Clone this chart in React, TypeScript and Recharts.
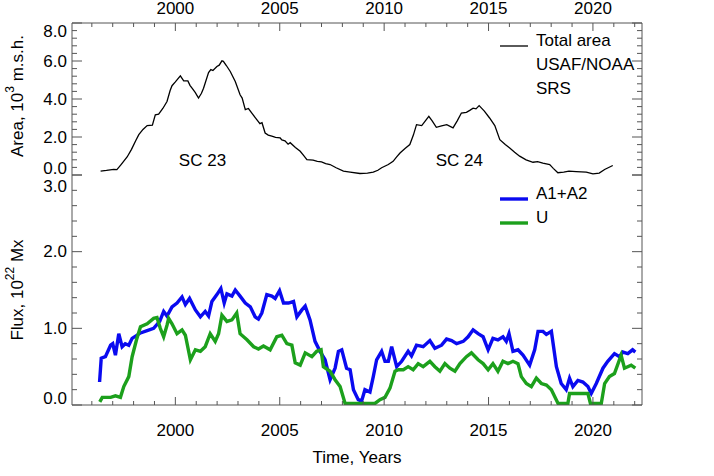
import React from 'react';
import { LineChart, Line, XAxis, YAxis, ReferenceDot, Legend } from 'recharts';

const FONT = '"Liberation Sans", Arial, Helvetica, sans-serif';
const AXIS = '#555';
const W = 714;
const H = 476;

// x ticks (yearly minor, labels every 5 years)
const yearTicks = [
  1996, 1997, 1998, 1999, 2000, 2001, 2002, 2003, 2004, 2005, 2006, 2007, 2008, 2009,
  2010, 2011, 2012, 2013, 2014, 2015, 2016, 2017, 2018, 2019, 2020, 2021, 2022,
];
const areaTicks = [
  0, 0.4, 0.8, 1.2, 1.6, 2, 2.4, 2.8, 3.2, 3.6, 4, 4.4, 4.8, 5.2, 5.6, 6, 6.4, 6.8, 7.2, 7.6, 8,
];
const fluxTicks = [0, 0.2, 0.4, 0.6, 0.8, 1, 1.2, 1.4, 1.6, 1.8, 2, 2.2, 2.4, 2.6, 2.8, 3];

// total sunspot area, 10^3 m.s.h.
const areaYears = [
  1996.42, 1996.7, 1997.05, 1997.2, 1997.4, 1997.69, 1997.9, 1998.1, 1998.25, 1998.45, 1998.65,
  1998.9, 1999.04, 1999.2, 1999.4, 1999.6, 1999.75, 1999.84, 2000.0, 2000.24, 2000.4, 2000.6,
  2000.7, 2000.8, 2000.95, 2001.11, 2001.25, 2001.35, 2001.59, 2001.7, 2001.8, 2001.99, 2002.1,
  2002.23, 2002.3, 2002.45, 2002.63, 2002.87, 2003.1, 2003.2, 2003.35, 2003.5, 2003.7, 2003.9,
  2004.05, 2004.15, 2004.3, 2004.45, 2004.62, 2004.8, 2005.02, 2005.1, 2005.25, 2005.4, 2005.5,
  2005.75, 2005.98, 2006.15, 2006.3, 2006.6, 2006.8, 2007.0, 2007.2, 2007.41, 2007.7, 2008.05,
  2008.37, 2008.84, 2009.2, 2009.48, 2009.7, 2009.88, 2010.2, 2010.43, 2010.6, 2010.76, 2011.0,
  2011.23, 2011.4, 2011.55, 2011.8, 2012.14, 2012.3, 2012.5, 2012.75, 2013.0, 2013.3, 2013.5,
  2013.7, 2013.94, 2014.1, 2014.26, 2014.4, 2014.55, 2014.8, 2015.05, 2015.3, 2015.54, 2015.8,
  2016.0, 2016.25, 2016.49, 2016.8, 2017.13, 2017.35, 2017.6, 2017.93, 2018.1, 2018.32, 2018.6,
  2018.85, 2019.2, 2019.68, 2020.0, 2020.3, 2020.56, 2020.95,
];
const areaValues = [
  0.2, 0.24, 0.3, 0.28, 0.55, 0.95, 1.35, 1.8, 2.12, 2.4, 2.6,
  2.62, 3.17, 3.2, 3.5, 3.87, 4.45, 4.7, 4.9, 5.22, 4.95, 4.95,
  4.72, 4.57, 4.35, 4.05, 4.3, 4.57, 5.39, 5.55, 5.5, 5.71, 5.78,
  6.01, 5.98, 5.75, 5.45, 4.92, 4.22, 4.05, 3.44, 3.5, 3.2, 2.91,
  2.7, 2.75, 2.21, 2.1, 2.04, 1.98, 1.95, 1.85, 1.8, 1.62, 1.7,
  1.45, 1.25, 1.02, 0.81, 0.78, 0.72, 0.69, 0.6, 0.55, 0.38, 0.2,
  0.15, 0.08, 0.1, 0.15, 0.25, 0.38, 0.55, 0.72, 0.95, 1.16, 1.4,
  1.6, 2.1, 2.65, 2.6, 3.09, 2.85, 2.51, 2.58, 2.65, 2.48, 2.85,
  3.26, 3.3, 3.4, 3.52, 3.48, 3.65, 3.36, 3.0, 2.6, 1.86, 1.6,
  1.43, 1.2, 0.99, 0.8, 0.67, 0.7, 0.62, 0.55, 0.35, 0.12, 0.15,
  0.2, 0.18, 0.15, 0.06, 0.1, 0.29, 0.5,
];

// A1+A2 flux, 10^22 Mx
const a12Years = [
  1996.37, 1996.45, 1996.65, 1996.9, 1997.0, 1997.13, 1997.29, 1997.45, 1997.6, 1997.77, 1997.93,
  1998.33, 1998.65, 1998.96, 1999.25, 1999.44, 1999.6, 1999.84, 2000.08, 2000.32, 2000.48, 2000.68,
  2000.96, 2001.2, 2001.43, 2001.59, 2001.75, 2001.99, 2002.18, 2002.34, 2002.47, 2002.71, 2002.87,
  2003.1, 2003.35, 2003.59, 2003.82, 2003.98, 2004.14, 2004.38, 2004.62, 2004.78, 2004.99, 2005.18,
  2005.42, 2005.66, 2005.82, 2006.06, 2006.22, 2006.45, 2006.69, 2006.93, 2007.17, 2007.41, 2007.65,
  2007.81, 2007.97, 2008.2, 2008.37, 2008.53, 2008.76, 2008.92, 2009.08, 2009.32, 2009.48, 2009.64,
  2009.88, 2010.04, 2010.2, 2010.36, 2010.6, 2010.84, 2011.15, 2011.31, 2011.55, 2011.87, 2012.19,
  2012.43, 2012.75, 2012.99, 2013.23, 2013.47, 2013.79, 2014.02, 2014.26, 2014.5, 2014.74, 2014.98,
  2015.21, 2015.45, 2015.69, 2015.85, 2015.98, 2016.17, 2016.41, 2016.65, 2016.97, 2017.21, 2017.37,
  2017.61, 2017.77, 2018.01, 2018.25, 2018.48, 2018.72, 2018.88, 2019.04, 2019.28, 2019.52, 2019.76,
  2019.92, 2020.16, 2020.48, 2020.71, 2021.03, 2021.27, 2021.43, 2021.67, 2021.9, 2022.03,
];
const a12Values = [
  0.3, 0.61, 0.63, 0.78, 0.8, 0.65, 0.93, 0.76, 0.8, 0.78, 0.87,
  0.94, 0.97, 1.0, 1.09, 1.22, 1.16, 1.28, 1.33, 1.41, 1.31, 1.39,
  1.24, 1.15, 1.22, 1.16, 1.35, 1.44, 1.52, 1.33, 1.45, 1.42, 1.5,
  1.42, 1.33, 1.28, 1.15, 1.12, 1.2, 1.44, 1.42, 1.39, 1.49, 1.33,
  1.33, 1.35, 1.15, 1.24, 1.29, 1.11, 0.83, 0.7, 0.59, 0.33, 0.48,
  0.7, 0.72, 0.48, 0.46, 0.2, 0.07, 0.05, 0.2, 0.17, 0.37, 0.59,
  0.7, 0.57, 0.57, 0.76, 0.5, 0.57, 0.7, 0.64, 0.78, 0.76, 0.84,
  0.74, 0.78, 0.86, 0.84, 0.8, 0.83, 0.89, 0.98, 0.93, 0.89, 0.72,
  0.87, 0.85, 0.89, 0.83, 0.93, 0.7, 0.72, 0.65, 0.52, 0.72, 0.96,
  0.96, 0.92, 0.96, 0.5, 0.28, 0.2, 0.35, 0.24, 0.32, 0.3, 0.24,
  0.15, 0.28, 0.48, 0.57, 0.67, 0.63, 0.69, 0.67, 0.72, 0.69,
];

// U flux, 10^22 Mx
const uYears = [
  1996.38, 1996.5, 1996.9, 1997.13, 1997.37, 1997.53, 1997.77, 1997.93, 1998.14, 1998.33, 1998.65,
  1998.96, 1999.12, 1999.28, 1999.44, 1999.6, 1999.68, 1999.84, 2000.08, 2000.32, 2000.48, 2000.72,
  2000.96, 2001.2, 2001.43, 2001.67, 2001.91, 2002.07, 2002.23, 2002.47, 2002.71, 2002.94, 2003.1,
  2003.43, 2003.75, 2003.98, 2004.22, 2004.54, 2004.86, 2005.1, 2005.34, 2005.58, 2005.74, 2005.98,
  2006.22, 2006.54, 2006.77, 2006.98, 2007.09, 2007.41, 2007.65, 2007.89, 2008.13, 2008.84, 2009.56,
  2009.8, 2010.04, 2010.28, 2010.52, 2010.68, 2010.92, 2011.15, 2011.39, 2011.63, 2011.87, 2012.19,
  2012.43, 2012.67, 2012.91, 2013.15, 2013.39, 2013.63, 2013.94, 2014.18, 2014.5, 2014.74, 2014.98,
  2015.21, 2015.45, 2015.69, 2015.93, 2016.17, 2016.41, 2016.57, 2016.81, 2017.05, 2017.29, 2017.53,
  2017.77, 2018.01, 2018.33, 2018.8, 2018.88, 2019.76, 2019.88, 2020.4, 2020.56, 2020.79, 2021.03,
  2021.35, 2021.51, 2021.83, 2022.03,
];
const uValues = [
  0.04, 0.1, 0.1, 0.12, 0.1, 0.24, 0.37, 0.63, 0.85, 1.02, 1.06,
  1.13, 1.14, 1.0, 0.89, 1.04, 1.13, 1.06, 0.93, 0.98, 0.91, 0.59,
  0.72, 0.7, 0.76, 0.93, 0.83, 0.93, 1.17, 1.09, 1.11, 1.2, 0.93,
  0.85, 0.76, 0.73, 0.77, 0.72, 0.89, 0.91, 0.8, 0.78, 0.55, 0.52,
  0.68, 0.63, 0.7, 0.72, 0.5, 0.44, 0.33, 0.24, 0.02, 0.02, 0.02,
  0.07, 0.1, 0.22, 0.44, 0.46, 0.46, 0.5, 0.46, 0.54, 0.5, 0.57,
  0.5, 0.44, 0.54, 0.48, 0.44, 0.54, 0.63, 0.68, 0.59, 0.54, 0.46,
  0.54, 0.44, 0.57, 0.54, 0.57, 0.54, 0.37, 0.28, 0.24, 0.35, 0.28,
  0.26, 0.2, 0.02, 0.02, 0.15, 0.15, 0.02, 0.02, 0.28, 0.37, 0.41,
  0.65, 0.48, 0.52, 0.48,
];

const areaData = areaYears.map((year, i) => ({ year, v: areaValues[i] }));
const a12Data = a12Years.map((year, i) => ({ year, v: a12Values[i] }));
const uData = uYears.map((year, i) => ({ year, v: uValues[i] }));

const X_DOMAIN: [number, number] = [1995.05, 2022.35];
const textStyle = { fontFamily: FONT, fontSize: 17, fill: '#000' };

const isMultiple = (v: number, step: number) => Math.abs(v / step - Math.round(v / step)) < 1e-6;

const XTick = (props: any) => {
  const { x, y, payload, side, labels } = props;
  const v = payload.value;
  const major = v % 5 === 0;
  const len = major ? 8 : 4;
  const dir = side === 'top' ? 1 : -1;
  return (
    <g>
      <line x1={x} x2={x} y1={y} y2={y + dir * len} stroke={AXIS} strokeWidth={1} />
      {labels && major && (
        <text x={x} y={side === 'top' ? y - 15 : y + 25} textAnchor="middle" dominantBaseline="central" style={textStyle}>
          {v}
        </text>
      )}
    </g>
  );
};

const YTick = (props: any) => {
  const { x, y, payload, side, step, max, labels } = props;
  const v = payload.value;
  const major = isMultiple(v, step);
  const len = major ? 10 : 5;
  const dir = side === 'left' ? 1 : -1;
  // end labels are pulled inside the panel so the two panels' labels do not collide
  let dy = 0;
  if (Math.abs(v - max) < 1e-6) dy = max > 5 ? 8 : 11;
  if (Math.abs(v) < 1e-6) dy = -7;
  return (
    <g>
      <line x1={x} x2={x + dir * len} y1={y} y2={y} stroke={AXIS} strokeWidth={1} />
      {labels && major && (
        <text x={x - 5} y={y + dy} textAnchor="end" dominantBaseline="central" style={textStyle}>
          {v.toFixed(1)}
        </text>
      )}
    </g>
  );
};

const AreaTitle = (props: any) => {
  const { viewBox } = props;
  const cx = 17;
  const cy = viewBox.y + viewBox.height / 2 - 3;
  return (
    <text x={cx} y={cy} transform={`rotate(-90 ${cx} ${cy})`} textAnchor="middle" dominantBaseline="central" style={textStyle}>
      Area, 10<tspan dy={-7} fontSize={12}>3</tspan>
      <tspan dy={7}> m.s.h.</tspan>
    </text>
  );
};

const FluxTitle = (props: any) => {
  const { viewBox } = props;
  const cx = 17;
  const cy = viewBox.y + viewBox.height / 2;
  return (
    <text x={cx} y={cy} transform={`rotate(-90 ${cx} ${cy})`} textAnchor="middle" dominantBaseline="central" style={textStyle}>
      Flux, 10<tspan dy={-7} fontSize={12}>22</tspan>
      <tspan dy={7}> Mx</tspan>
    </text>
  );
};

const TimeTitle = (props: any) => {
  const { viewBox } = props;
  return (
    <text x={viewBox.x + viewBox.width / 2} y={viewBox.y + 52} textAnchor="middle" dominantBaseline="central" style={textStyle}>
      Time, Years
    </text>
  );
};

const legendText: React.CSSProperties = {
  fontFamily: FONT,
  fontSize: 17,
  color: '#000',
  lineHeight: '24px',
  whiteSpace: 'nowrap',
};

const LegendRow = ({ color, width, label }: { color?: string; width?: number; label: string }) => (
  <div style={{ display: 'flex', alignItems: 'center', height: 24 }}>
    <svg width={36} height={24} style={{ display: 'block' }}>
      {color && <line x1={0} x2={28} y1={17} y2={17} stroke={color} strokeWidth={width} />}
    </svg>
    <span style={legendText}>{label}</span>
  </div>
);

const AreaLegend = () => (
  <div>
    <LegendRow color="#000" width={1.3} label="Total area" />
    <LegendRow label="USAF/NOAA" />
    <LegendRow label="SRS" />
  </div>
);

const FluxLegend = () => (
  <div>
    <LegendRow color="#0a0af0" width={3.4} label="A1+A2" />
    <LegendRow color="#1ca01c" width={3.4} label="U" />
  </div>
);

export default function App() {
  return (
    <div style={{ position: 'absolute', left: 0, top: 0, width: W, height: H, background: '#fff' }}>
      <div style={{ position: 'absolute', left: 0, top: 0 }}>
        <LineChart width={W} height={H} margin={{ top: 0, right: 0, bottom: H - 175, left: 0 }}>
          <XAxis
            xAxisId="t" orientation="top" dataKey="year" type="number" domain={X_DOMAIN} allowDataOverflow
            ticks={yearTicks} interval={0} height={23} tickSize={0} tickMargin={0}
            stroke={AXIS} tickLine={false}
            tick={(p: any) => <XTick {...p} side="top" labels />}
          />
          <XAxis
            xAxisId="b" orientation="bottom" dataKey="year" type="number" domain={X_DOMAIN} allowDataOverflow
            ticks={yearTicks} interval={0} height={0} tickSize={0} tickMargin={0}
            stroke={AXIS} tickLine={false}
            tick={(p: any) => <XTick {...p} side="bottom" />}
          />
          <YAxis
            yAxisId="l" orientation="left" type="number" domain={[0, 8]} allowDataOverflow
            ticks={areaTicks} interval={0} width={72} tickSize={0} tickMargin={0}
            stroke={AXIS} tickLine={false}
            tick={(p: any) => <YTick {...p} side="left" step={2} max={8} labels />}
            label={(p: any) => <AreaTitle {...p} />}
          />
          <YAxis
            yAxisId="r" orientation="right" type="number" domain={[0, 8]} allowDataOverflow
            ticks={areaTicks} interval={0} width={72} tickSize={0} tickMargin={0}
            stroke={AXIS} tickLine={false}
            tick={(p: any) => <YTick {...p} side="right" step={2} max={8} />}
          />
          <Line
            data={areaData} dataKey="v" xAxisId="b" yAxisId="l" type="linear"
            stroke="#000" strokeWidth={1.3} dot={false} activeDot={false} isAnimationActive={false}
          />
          <ReferenceDot xAxisId="b" yAxisId="l" x={2001.3} y={0.78} r={0} fill="none" stroke="none"
            label={{ value: 'SC 23', position: 'center', style: textStyle }} />
          <ReferenceDot xAxisId="b" yAxisId="l" x={2013.6} y={0.78} r={0} fill="none" stroke="none"
            label={{ value: 'SC 24', position: 'center', style: textStyle }} />
          <Legend
            layout="horizontal" verticalAlign="middle" align="center"
            wrapperStyle={{ position: 'absolute', left: 500, top: 29, width: 'auto' }}
            content={() => <AreaLegend />}
          />
        </LineChart>
      </div>
      <div style={{ position: 'absolute', left: 0, top: 0 }}>
        <LineChart width={W} height={H} margin={{ top: 175, right: 0, bottom: 0, left: 0 }}>
          <XAxis
            xAxisId="t" orientation="top" dataKey="year" type="number" domain={X_DOMAIN} allowDataOverflow
            ticks={yearTicks} interval={0} height={0} tickSize={0} tickMargin={0}
            stroke={AXIS} tickLine={false}
            tick={(p: any) => <XTick {...p} side="top" />}
          />
          <XAxis
            xAxisId="b" orientation="bottom" dataKey="year" type="number" domain={X_DOMAIN} allowDataOverflow
            ticks={yearTicks} interval={0} height={71} tickSize={0} tickMargin={0}
            stroke={AXIS} tickLine={false}
            tick={(p: any) => <XTick {...p} side="bottom" labels />}
            label={(p: any) => <TimeTitle {...p} />}
          />
          <YAxis
            yAxisId="l" orientation="left" type="number" domain={[0, 3]} allowDataOverflow
            ticks={fluxTicks} interval={0} width={72} tickSize={0} tickMargin={0}
            stroke={AXIS} tickLine={false}
            tick={(p: any) => <YTick {...p} side="left" step={1} max={3} labels />}
            label={(p: any) => <FluxTitle {...p} />}
          />
          <YAxis
            yAxisId="r" orientation="right" type="number" domain={[0, 3]} allowDataOverflow
            ticks={fluxTicks} interval={0} width={72} tickSize={0} tickMargin={0}
            stroke={AXIS} tickLine={false}
            tick={(p: any) => <YTick {...p} side="right" step={1} max={3} />}
          />
          <Line
            data={a12Data} dataKey="v" xAxisId="b" yAxisId="l" type="linear"
            stroke="#0a0af0" strokeWidth={3.4} dot={false} activeDot={false} isAnimationActive={false}
          />
          <Line
            data={uData} dataKey="v" xAxisId="b" yAxisId="l" type="linear"
            stroke="#1ca01c" strokeWidth={3.4} dot={false} activeDot={false} isAnimationActive={false}
          />
          <Legend
            layout="horizontal" verticalAlign="middle" align="center"
            wrapperStyle={{ position: 'absolute', left: 500, top: 182, width: 'auto' }}
            content={() => <FluxLegend />}
          />
        </LineChart>
      </div>
    </div>
  );
}
